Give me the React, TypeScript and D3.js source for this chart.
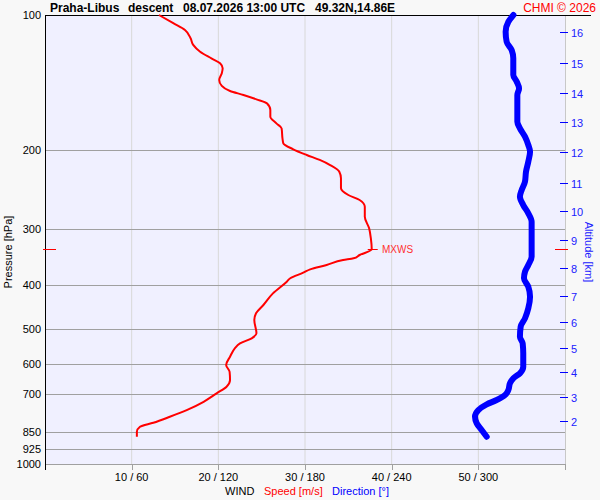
import React from "react";
import * as d3 from "d3";

// ---- data ----
const speedPressure = [100, 104.3, 108.0, 112.7, 116.6, 120.7, 124.9, 128.1, 131.4, 134.8, 139.5, 143.9, 147.7, 150.7, 154.1, 157.3, 162.8, 168.5, 174.3, 178.8, 188.2, 193.1, 199.1, 205.0, 210.3, 215.9, 223.4, 231.0, 243.2, 251.7, 258.2, 267.3, 281.4, 298.6, 314.4, 332.5, 342.4, 348.3, 351.3, 360.4, 368.5, 374.9, 385.8, 392.6, 416.9, 442.5, 461.7, 477.9, 511.7, 524.8, 538.5, 552.5, 576.8, 602.0, 623.1, 650.2, 672.9, 696.1, 726.8, 758.5, 784.9, 809.4, 826.2, 847.3, 869.4];
const speedValues = [13.15, 14.8, 16.15, 16.8, 17.1, 17.9, 19.2, 20.2, 20.5, 20.4, 20.1, 20.4, 21.35, 22.9, 24.4, 25.6, 26.0, 26.0, 26.7, 27.3, 27.4, 27.5, 28.65, 30.2, 31.7, 32.9, 33.96, 34.15, 34.15, 35.0, 36.3, 36.9, 36.9, 37.4, 37.6, 37.7, 36.3, 35.6, 34.4, 32.5, 30.6, 29.8, 28.3, 27.9, 26.3, 25.2, 24.35, 24.15, 24.4, 23.85, 22.5, 21.9, 21.35, 20.9, 21.3, 21.35, 20.95, 19.8, 18.3, 16.35, 14.4, 12.5, 10.96, 10.6, 10.6];

const dirPressure = [100, 103.5, 108.9, 114.7, 119.7, 124.9, 136.0, 140.8, 145.7, 150.7, 172.9, 178.8, 186.6, 194.8, 201.6, 212.1, 223.4, 235.1, 245.4, 253.9, 265.0, 276.5, 288.6, 317.0, 345.3, 360.4, 373.1, 385.8, 402.8, 424.0, 450.1, 473.8, 494.6, 520.6, 538.5, 567.0, 607.3, 628.1, 644.5, 661.2, 684.3, 702.1, 720.4, 736.4, 758.5, 784.9, 811.8, 840.1, 869.4];
const dirValues = [324.3, 320.8, 318.9, 319.6, 323.1, 324.2, 324.2, 326.6, 328.2, 327.0, 327.0, 328.8, 332.3, 334.6, 335.8, 334.6, 333.0, 332.3, 330.0, 328.8, 331.1, 334.6, 336.9, 336.9, 336.9, 334.6, 332.3, 331.6, 334.6, 335.8, 334.6, 332.3, 329.3, 328.8, 330.7, 331.1, 331.1, 328.8, 324.2, 321.9, 320.8, 318.5, 312.7, 305.8, 300.0, 297.7, 298.9, 302.3, 305.8];

const pressureTicks = [100, 200, 300, 400, 500, 600, 700, 850, 925, 1000];
const speedTicks = [10, 20, 30, 40, 50];
const dirTicks = [60, 120, 180, 240, 300];
const altitudeKm = [2, 3, 4, 5, 6, 7, 8, 9, 10, 11, 12, 13, 14, 15, 16];
const altitudePressure = [803.4, 708.2, 624.9, 552.5, 482.2, 421.8, 366.0, 316.5, 273.3, 236.3, 202.2, 173.4, 149.2, 127.7, 109.3];
const maxWindPressure = 332.5;
const maxWindSpeed = 37.7;

const W = 600, H = 500;
const L = 45, R = 565, T = 15, B = 464;
const FONT = "Arial, 'Liberation Sans', sans-serif";

export default function App() {
  const y = d3.scaleLog().domain([100, 1000]).range([T, B]);
  const xs = d3.scaleLinear().domain([0, 60]).range([L, R]);
  const xd = d3.scaleLinear().domain([0, 360]).range([L, R]);

  const speedLine = d3
    .line<number>()
    .x((_, i) => xs(speedValues[i]))
    .y((p) => y(p))
    .curve(d3.curveMonotoneY)(speedPressure) as string;
  const dirLine = d3
    .line<number>()
    .x((_, i) => xd(dirValues[i]))
    .y((p) => y(p))
    .curve(d3.curveMonotoneY)(dirPressure) as string;

  const ym = y(maxWindPressure);
  const xm = xs(maxWindSpeed);

  return (
    <svg width={W} height={H} style={{ position: "absolute", left: 0, top: 0 }} fontFamily={FONT}>
      <rect x={0} y={0} width={W} height={H} fill="#f8f8f8" />
      <rect x={L} y={T} width={R - L} height={B - T} fill="#f0f0ff" />
      {/* vertical grid */}
      {speedTicks.map((s) => (
        <line key={"v" + s} x1={xs(s)} x2={xs(s)} y1={T} y2={B} stroke="#d8d8d8" strokeWidth={1} />
      ))}
      <line x1={R + 0.5} x2={R + 0.5} y1={T} y2={B} stroke="#c8c8c8" />
      {/* horizontal grid */}
      {pressureTicks.slice(1).map((p) => (
        <line key={"h" + p} x1={L} x2={R} y1={Math.round(y(p)) + 0.5} y2={Math.round(y(p)) + 0.5} stroke="#a0a0a0" strokeWidth={1} />
      ))}
      {/* bottom ticks */}
      {speedTicks.concat([60]).map((s) => (
        <line key={"bt" + s} x1={Math.round(xs(s)) + 0.5} x2={Math.round(xs(s)) + 0.5} y1={B} y2={B + 6} stroke="#a0a0a0" />
      ))}
      {/* top line and left axis */}
      <line x1={L} x2={591} y1={T + 0.5} y2={T + 0.5} stroke="#000" />
      <line x1={L + 0.5} x2={L + 0.5} y1={T} y2={B + 6} stroke="#000" />
      {/* pressure labels */}
      {pressureTicks.map((p) => (
        <text key={"pl" + p} x={41} y={y(p) + 4} textAnchor="end" fontSize={11} fill="#000">
          {p}
        </text>
      ))}
      {/* bottom labels */}
      {speedTicks.map((s, i) => (
        <text key={"bl" + s} x={xs(s)} y={481} textAnchor="middle" fontSize={11} fill="#000">
          {`${s} / ${dirTicks[i]}`}
        </text>
      ))}
      <text x={225} y={495} fontSize={11} fill="#000">WIND</text>
      <text x={264} y={495} fontSize={11} fill="#ff0000">Speed [m/s]</text>
      <text x={332} y={495} fontSize={11} fill="#0000ff">Direction [°]</text>
      {/* axis titles */}
      <text transform="translate(11.5,252) rotate(-90)" textAnchor="middle" fontSize={11} fill="#000">
        Pressure [hPa]
      </text>
      <text transform="translate(585,252) rotate(90)" textAnchor="middle" fontSize={11} fill="#2020ff">
        Altitude [km]
      </text>
      {/* altitude ticks */}
      {altitudeKm.map((k, i) => {
        const yy = Math.round(y(altitudePressure[i])) + 0.5;
        return (
          <g key={"a" + k}>
            <line x1={560} x2={568} y1={yy} y2={yy} stroke="#0000ff" />
            <text x={571} y={yy + 4} fontSize={11} fill="#2020ff">
              {k}
            </text>
          </g>
        );
      })}
      {/* title */}
      <text x={50} y={12} fontSize={12} fontWeight="bold" fill="#000">Praha-Libus</text>
      <text x={128} y={12} fontSize={12} fontWeight="bold" fill="#000">descent</text>
      <text x={183} y={12} fontSize={12} fontWeight="bold" fill="#000">08.07.2026 13:00 UTC</text>
      <text x={315} y={12} fontSize={12} fontWeight="bold" fill="#000">49.32N,14.86E</text>
      <text x={596} y={12} textAnchor="end" fontSize={12} fill="#ff0000">CHMI © 2026</text>
      {/* curves */}
      <path d={dirLine} fill="none" stroke="#0000ff" strokeWidth={6} strokeLinejoin="round" strokeLinecap="round" />
      <path d={speedLine} fill="none" stroke="#ff0000" strokeWidth={2} strokeLinejoin="round" />
      {/* MXWS markers */}
      <line x1={43} x2={56} y1={Math.round(ym) + 0.5} y2={Math.round(ym) + 0.5} stroke="#ff0000" />
      <line x1={555} x2={568} y1={Math.round(ym) + 0.5} y2={Math.round(ym) + 0.5} stroke="#ff0000" />
      <line x1={xm - 4} x2={xm + 6} y1={Math.round(ym) + 0.5} y2={Math.round(ym) + 0.5} stroke="#ff0000" />
      <text x={382} y={ym + 4} fontSize={10} fill="#ff3030">MXWS</text>
    </svg>
  );
}
